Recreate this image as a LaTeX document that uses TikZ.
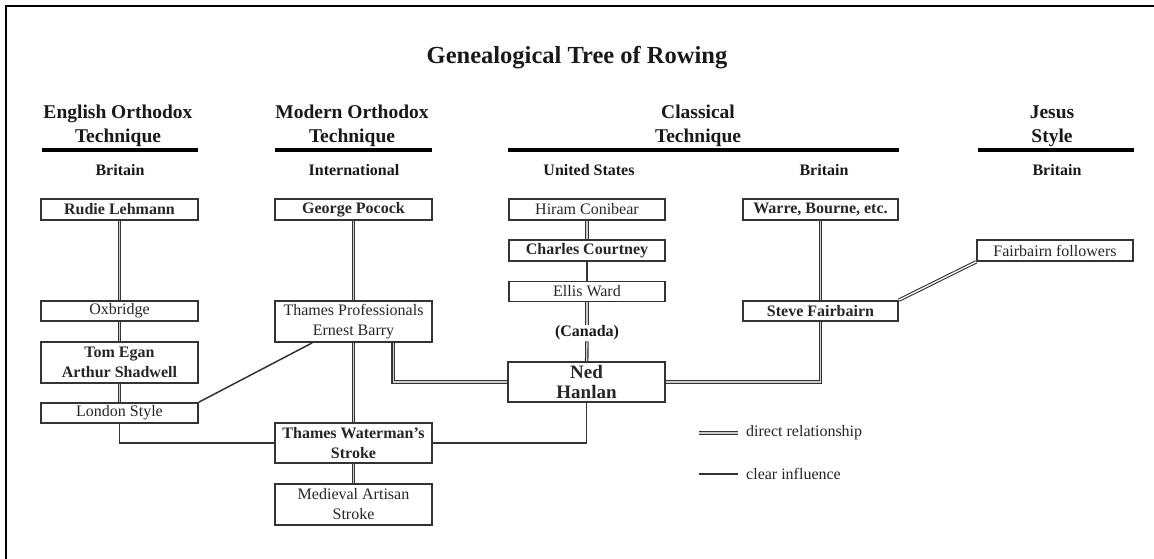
\documentclass[tikz,border=0pt]{standalone}
\usepackage{fontspec}
\setmainfont{Liberation Serif}
\usetikzlibrary{calc}
\begin{document}
\begin{tikzpicture}[x=1pt,y=-1pt,
  box/.style={draw=black!80, line width=1.7pt, fill=white, inner sep=0pt, align=center, text=black!85, font=\fontsize{16}{20}\selectfont},
  bbox/.style={box, font=\fontsize{16}{20}\selectfont\bfseries},
  dbl/.style={draw=black!80, line width=1.1pt, double=black!20, double distance=1.3pt},
  sgl/.style={draw=black!80, line width=1.5pt},
  hrule/.style={line width=4pt, draw=black},
  head/.style={align=center, inner sep=0pt, text=black!90, font=\fontsize{19.5}{24}\selectfont\bfseries},
  sub/.style={anchor=base, inner sep=0pt, text=black!90, font=\fontsize{16}{20}\selectfont\bfseries},
  legtext/.style={anchor=west, inner sep=0pt, text=black!85, font=\fontsize{16}{20}\selectfont}
]
\useasboundingbox (0,0) rectangle (1154,558);
\fill[white] (0,0) rectangle (1154,558);
% frame
\draw[line width=2pt, black] (6,560) -- (6,6) -- (1156,6);

% title
\node[anchor=base, inner sep=0pt, font=\fontsize{24.5}{28}\selectfont\bfseries, text=black!90] (title) at (577,63) {Genealogical Tree of Rowing};

% headers
\node[head] (h1) at (118,126) {English Orthodox\\Technique};
\node[head] (h2) at (352,126) {Modern Orthodox\\Technique};
\node[head] (h3) at (698,126) {Classical\\Technique};
\node[head] (h4) at (1052,126) {Jesus\\Style};
\draw[hrule] (42,150) -- (198,150);
\draw[hrule] (275,150) -- (432,150);
\draw[hrule] (508,150) -- (899,150);
\draw[hrule] (978,150) -- (1134,150);
\node[sub] (s1) at (120,175) {Britain};
\node[sub] (s2) at (354,175) {International};
\node[sub] (s3) at (589,175) {United States};
\node[sub] (s4) at (824,175) {Britain};
\node[sub] (s5) at (1057,175) {Britain};

% boxes
\node[bbox, minimum width=157pt, minimum height=21pt] (rl) at (119.5,209.5) {Rudie Lehmann};
\node[box,  minimum width=157pt, minimum height=20pt] (ox) at (119.5,311) {Oxbridge};
\node[bbox, minimum width=157pt, minimum height=41pt] (te) at (119.5,362.5) {Tom Egan\\Arthur Shadwell};
\node[box,  minimum width=157pt, minimum height=20pt] (ls) at (119.5,413) {London Style};

\node[bbox, minimum width=157pt, minimum height=21pt] (gp) at (353.5,209.5) {George Pocock};
\node[box,  minimum width=157pt, minimum height=41pt] (tp) at (353.5,321.5) {Thames Professionals\\Ernest Barry};
\node[bbox, minimum width=157pt, minimum height=40pt] (tw) at (353.5,443) {Thames Waterman’s\\Stroke};
\node[box,  minimum width=157pt, minimum height=41pt] (ma) at (353.5,504.5) {Medieval Artisan\\Stroke};

\node[box,  minimum width=156pt, minimum height=21pt] (hc) at (587,209.5) {Hiram Conibear};
\node[bbox, minimum width=156pt, minimum height=21pt] (cc) at (587,250.5) {Charles Courtney};
\node[box,  minimum width=156pt, minimum height=20pt] (ew) at (587,291.5) {Ellis Ward};
\node[inner sep=1pt, text=black!90, font=\fontsize{16}{20}\selectfont\bfseries] (ca) at (587,333) {(Canada)};
\node[box, minimum width=157pt, minimum height=40pt, font=\fontsize{19}{20}\selectfont\bfseries] (nh) at (586.5,382) {Ned\\Hanlan};

\node[bbox, minimum width=155pt, minimum height=21pt] (wb) at (820.5,209.5) {Warre, Bourne, etc.};
\node[bbox, minimum width=155pt, minimum height=20pt] (sf) at (820.5,311) {Steve Fairbairn};
\node[box,  minimum width=156pt, minimum height=21pt] (ff) at (1055,250.5) {Fairbairn followers};

% helper coordinates on the bottom edge of Thames Professionals
\coordinate (tpa) at ($(tp.south west)!0.24!(tp.south east)$);
\coordinate (tpb) at ($(tp.south west)!0.75!(tp.south east)$);

% direct relationships
\draw[dbl] (rl) -- (ox);
\draw[dbl] (ox) -- (te);
\draw[dbl] (te) -- (ls);
\draw[dbl] (gp) -- (tp);
\draw[dbl] (tp) -- (tw);
\draw[dbl] (tw) -- (ma);
\draw[dbl] (hc) -- (cc);
\draw[dbl] (ew) -- (ca);
\draw[dbl] (ca) -- (nh);
\draw[dbl] (wb) -- (sf);
\draw[dbl] (tpb) |- (nh.west);
\draw[dbl] (nh.east) -| (sf.south);
\draw[dbl, double=white] (sf.north east) -- (ff.south west);

% clear influences
\draw[sgl] (cc) -- (ew);
\draw[sgl] (ls.north east) -- (tpa);
\draw[sgl] (ls.south) |- (tw.west);
\draw[sgl] (nh.south) |- (tw.east);

% legend
\coordinate (l1a) at (699,433);
\coordinate (l1b) at (738,433);
\coordinate (l2a) at (699,474);
\coordinate (l2b) at (738,474);
\draw[dbl] (l1a) -- (l1b);
\draw[sgl] (l2a) -- (l2b);
\node[legtext] (lt1) at (746,433) {direct relationship};
\node[legtext] (lt2) at (746,474) {clear influence};
\end{tikzpicture}
\end{document}
